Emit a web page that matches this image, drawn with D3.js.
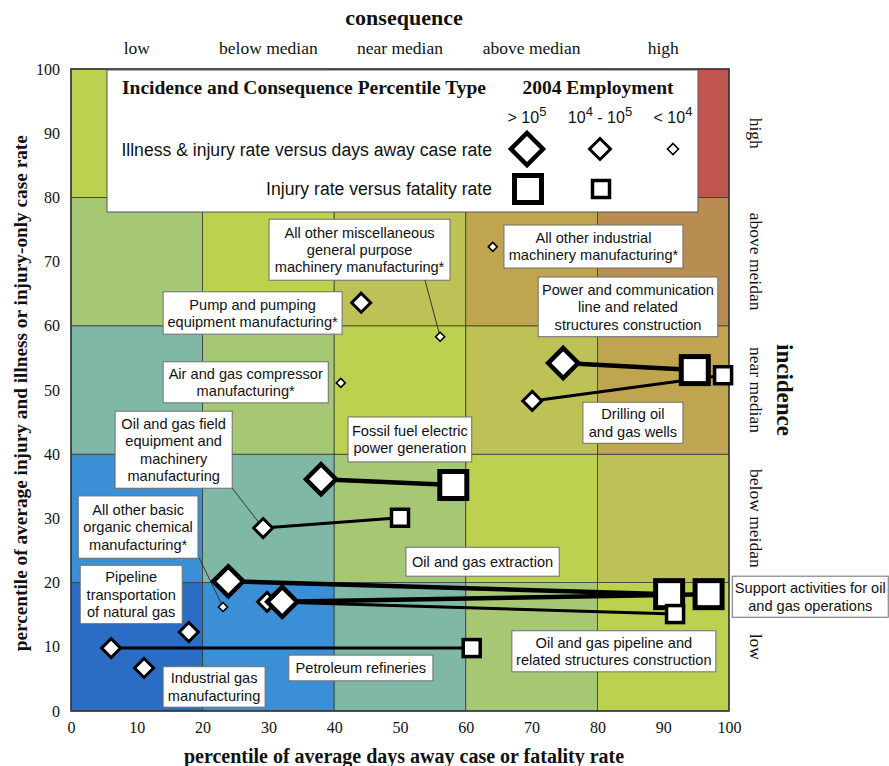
<!DOCTYPE html>
<html>
<head>
<meta charset="utf-8">
<script src="https://cdn.jsdelivr.net/npm/d3@7"></script>
<style>
  body { margin: 0; background: #fff; }
  text { fill: #111; }
  .serif { font-family: "Liberation Serif", "Times New Roman", serif; }
  .sans { font-family: "Liberation Sans", Arial, sans-serif; }
</style>
</head>
<body>
<div id="chart"></div>
<script>
// ---- data ----
const bands = [0, 20, 40, 60, 80];
const consequenceLabels = ["low", "below median", "near median", "above median", "high"];
const incidenceLabels = ["low", "below meidan", "near median", "above meidan", "high"];
const tickValues = [0, 10, 20, 30, 40, 50, 60, 70, 80, 90, 100];
// colour by (column + row) of the 5x5 grid
const cellColors = ["#2b6cc4", "#3b8fd7", "#80b8a8", "#a6c874", "#bdd150", "#bec256", "#bfa54f", "#b98d52", "#c0554f"];

const industries = ["Pump and pumping", "Misc general purpose machinery", "Other industrial machinery",
  "Air and gas compressor", "Power and communication line", "Drilling oil and gas wells",
  "Fossil fuel electric power", "Oil and gas field equipment", "Other basic organic chemical",
  "Oil and gas extraction", "Oil and gas pipeline construction", "Support activities",
  "Pipeline transportation", "Petroleum refineries", "Industrial gas"];
// illness & injury rate (y) versus days away case rate (x) -> diamonds
const caseX = [44.1, 56.1, 64.1, 41.0, 74.8, 70.1, 38.0, 29.2, 23.1, 23.9, 29.8, 32.1, 17.9, 6.1, 11.1];
const caseY = [63.6, 58.3, 72.3, 51.1, 54.2, 48.3, 36.1, 28.5, 16.2, 20.2, 17.0, 17.0, 12.3, 9.8, 6.7];
// injury rate (y) versus fatality rate (x) -> squares
const fatalX = [null, null, null, null, 94.8, 99.1, 58.1, 50.0, null, 90.9, 91.8, 96.9, null, 60.9, null];
const fatalY = [null, null, null, null, 53.1, 52.3, 35.2, 30.1, null, 18.2, 15.1, 18.2, null, 9.8, null];
// 2004 employment class
const employment = ["mid", "low", "low", "low", "high", "mid", "high", "mid", "low", "high", "mid", "high", "mid", "mid", "mid"];
const employmentLabels = [["> 10", "5"], ["10", "4", " - 10", "5"], ["< 10", "4"]];

// callout boxes, in percentile units
const callouts = [
  { lines: ["All other miscellaneous", "general purpose", "machinery manufacturing*"], x0: 30.1, x1: 57.6, y0: 76.6, y1: 67.1, leader: [53.8, 67.1], to: 1 },
  { lines: ["Pump and pumping", "equipment manufacturing*"], x0: 14.0, x1: 41.2, y0: 65.3, y1: 58.7 },
  { lines: ["Air and gas compressor", "manufacturing*"], x0: 14.0, x1: 39.1, y0: 54.4, y1: 48.0 },
  { lines: ["All other industrial", "machinery manufacturing*"], x0: 65.8, x1: 93.0, y0: 75.7, y1: 69.0 },
  { lines: ["Power and communication", "line and related", "structures construction"], x0: 71.0, x1: 98.3, y0: 67.6, y1: 58.3 },
  { lines: ["Drilling oil", "and gas wells"], x0: 77.8, x1: 93.0, y0: 48.1, y1: 41.7 },
  { lines: ["Fossil fuel electric", "power generation"], x0: 42.1, x1: 60.9, y0: 45.8, y1: 38.8 },
  { lines: ["Oil and gas field", "equipment and", "machinery", "manufacturing"], x0: 6.7, x1: 24.5, y0: 46.7, y1: 34.7, leader: [24.5, 34.7], to: 7 },
  { lines: ["All other basic", "organic chemical", "manufacturing*"], x0: 1.1, x1: 19.3, y0: 33.5, y1: 23.8, leader: [19.5, 23.8], to: 8 },
  { lines: ["Oil and gas extraction"], x0: 50.9, x1: 74.2, y0: 25.5, y1: 21.0 },
  { lines: ["Pipeline", "transportation", "of natural gas"], x0: 1.4, x1: 16.9, y0: 22.7, y1: 13.6 },
  { lines: ["Support activities for oil", "and gas operations"], x0: 100.5, x1: 124.2, y0: 21.0, y1: 14.6 },
  { lines: ["Oil and gas pipeline and", "related structures construction"], x0: 67.0, x1: 98.0, y0: 12.5, y1: 6.1 },
  { lines: ["Petroleum refineries"], x0: 33.1, x1: 55.0, y0: 8.7, y1: 4.7 },
  { lines: ["Industrial gas", "manufacturing"], x0: 14.0, x1: 29.5, y0: 6.9, y1: 0.6 }
];

// ---- setup ----
const width = 889, height = 766;
const svg = d3.select("#chart").append("svg")
  .attr("width", width).attr("height", height);

const x = d3.scaleLinear().domain([0, 100]).range([71, 729]);
const y = d3.scaleLinear().domain([0, 100]).range([711, 69]);

const sizes = {
  high: { r: 15, sw: 4.5, side: 27, ssw: 5, lw: 4.5 },
  mid: { r: 9.5, sw: 3, side: 17, ssw: 3.5, lw: 3 },
  low: { r: 4.5, sw: 1.6 }
};
const diamond = r => `M0,${-r}L${r},0L0,${r}L${-r},0Z`;

/* CELLS */
const cells = [];
bands.forEach((bx, i) => bands.forEach((by, j) => cells.push({ bx, by, k: i + j })));
svg.append("g").selectAll("rect").data(cells).enter().append("rect")
  .attr("x", d => x(d.bx)).attr("y", d => y(d.by + 20))
  .attr("width", d => x(d.bx + 20) - x(d.bx))
  .attr("height", d => y(d.by) - y(d.by + 20))
  .attr("fill", d => cellColors[d.k])
  .attr("stroke", "#3a3a3a").attr("stroke-width", 0.8);

svg.append("rect")
  .attr("x", x(0)).attr("y", y(100))
  .attr("width", x(100) - x(0)).attr("height", y(0) - y(100))
  .attr("fill", "none").attr("stroke", "#333").attr("stroke-width", 1.5);

/* AXES */
const xAxis = svg.append("g")
  .attr("transform", `translate(0,${y(0)})`)
  .call(d3.axisBottom(x).tickValues(tickValues).tickSize(0).tickPadding(11));
const yAxis = svg.append("g")
  .attr("transform", `translate(${x(0)},0)`)
  .call(d3.axisLeft(y).tickValues(tickValues).tickSize(0).tickPadding(11));
[xAxis, yAxis].forEach(a => {
  a.select(".domain").remove();
  a.selectAll("text").attr("class", "serif").style("font-size", "16px").attr("fill", "#111");
});

/* AXIS TITLES */
svg.append("text").attr("class", "serif")
  .attr("x", 404).attr("y", 763).attr("text-anchor", "middle")
  .style("font-size", "20px").style("font-weight", "bold")
  .text("percentile of average days away case or fatality rate");

svg.append("text").attr("class", "serif")
  .attr("transform", `translate(27,${y(49.5)}) rotate(-90)`)
  .attr("text-anchor", "middle")
  .style("font-size", "19.3px").style("font-weight", "bold")
  .text("percentile of average injury and illness or injury-only case rate");

svg.append("text").attr("class", "serif")
  .attr("x", 404).attr("y", 25).attr("text-anchor", "middle")
  .style("font-size", "22px").style("font-weight", "bold")
  .text("consequence");

svg.selectAll(".conseq").data(consequenceLabels).enter().append("text")
  .attr("class", "serif")
  .attr("x", (d, i) => x(bands[i] + 10)).attr("y", 54)
  .attr("text-anchor", "middle").style("font-size", "17.5px")
  .text(d => d);

svg.selectAll(".incid").data(incidenceLabels).enter().append("text")
  .attr("class", "serif")
  .attr("transform", (d, i) => `translate(750,${y(bands[i] + 10)}) rotate(90)`)
  .attr("text-anchor", "middle").style("font-size", "17.5px")
  .text(d => d);

svg.append("text").attr("class", "serif")
  .attr("transform", `translate(777,${y(50)}) rotate(90)`)
  .attr("text-anchor", "middle")
  .style("font-size", "23px").style("font-weight", "bold")
  .text("incidence");

/* CALLOUT BOXES */
const lh = 17.4;
const boxes = svg.append("g");
callouts.forEach(c => {
  const bx0 = x(c.x0), bx1 = x(c.x1), by0 = y(c.y0), by1 = y(c.y1);
  boxes.append("rect")
    .attr("x", bx0).attr("y", by0).attr("width", bx1 - bx0).attr("height", by1 - by0)
    .attr("fill", "#fff").attr("stroke", "#6e6e6e").attr("stroke-width", 1);
  const cy = (by0 + by1) / 2 - (c.lines.length - 1) * lh / 2;
  c.lines.forEach((t, k) => {
    boxes.append("text").attr("class", "sans")
      .attr("x", (bx0 + bx1) / 2).attr("y", cy + k * lh)
      .attr("dy", "0.36em").attr("text-anchor", "middle")
      .style("font-size", "14.6px")
      .text(t);
  });
  if (c.leader) {
    boxes.append("line")
      .attr("x1", x(c.leader[0])).attr("y1", y(c.leader[1]))
      .attr("x2", x(caseX[c.to])).attr("y2", y(caseY[c.to]))
      .attr("stroke", "#333").attr("stroke-width", 1);
  }
});

/* CONNECTING LINES */
const pairs = industries.map((name, i) => ({ i, name })).filter(d => fatalX[d.i] !== null);
svg.append("g").selectAll("line").data(pairs).enter().append("line")
  .attr("x1", d => x(caseX[d.i])).attr("y1", d => y(caseY[d.i]))
  .attr("x2", d => x(fatalX[d.i])).attr("y2", d => y(fatalY[d.i]))
  .attr("stroke", "#000")
  .attr("stroke-width", d => sizes[employment[d.i]].lw);

/* MARKERS */
const marks = svg.append("g");
industries.forEach((name, i) => {
  const s = sizes[employment[i]];
  if (fatalX[i] !== null) {
    marks.append("rect")
      .attr("x", x(fatalX[i]) - s.side / 2).attr("y", y(fatalY[i]) - s.side / 2)
      .attr("width", s.side).attr("height", s.side)
      .attr("fill", "#fff").attr("stroke", "#000").attr("stroke-width", s.ssw);
  }
  marks.append("path")
    .attr("d", diamond(s.r))
    .attr("transform", `translate(${x(caseX[i])},${y(caseY[i])})`)
    .attr("fill", "#fff").attr("stroke", "#000").attr("stroke-width", s.sw)
    .attr("stroke-linejoin", "miter");
});

/* LEGEND */
const lg = svg.append("g");
lg.append("rect").attr("x", 107).attr("y", 70).attr("width", 591).attr("height", 142)
  .attr("fill", "#fff").attr("stroke", "#555").attr("stroke-width", 1);
lg.append("text").attr("class", "serif").attr("x", 122).attr("y", 94)
  .style("font-size", "19.5px").style("font-weight", "bold")
  .text("Incidence and Consequence Percentile Type");
lg.append("text").attr("class", "serif").attr("x", 598).attr("y", 94)
  .attr("text-anchor", "middle")
  .style("font-size", "19.5px").style("font-weight", "bold")
  .text("2004 Employment");

const colX = [527, 600, 673];
employmentLabels.forEach((parts, i) => {
  const t = lg.append("text").attr("class", "sans")
    .attr("x", colX[i]).attr("y", 123).attr("text-anchor", "middle")
    .style("font-size", "16px");
  parts.forEach((p, k) => {
    const sup = k % 2 === 1;
    t.append("tspan")
      .attr("dy", k === 0 ? 0 : (sup ? -7 : 7))
      .style("font-size", sup ? "13px" : "16px")
      .text(p);
  });
});

lg.append("text").attr("class", "sans").attr("x", 492).attr("y", 150)
  .attr("dy", "0.36em").attr("text-anchor", "end").style("font-size", "17.6px")
  .text("Illness & injury rate versus days away case rate");
lg.append("text").attr("class", "sans").attr("x", 492).attr("y", 189)
  .attr("dy", "0.36em").attr("text-anchor", "end").style("font-size", "17.6px")
  .text("Injury rate versus fatality rate");

["high", "mid", "low"].forEach((k, i) => {
  lg.append("path").attr("d", diamond(sizes[k].r + 1))
    .attr("transform", `translate(${colX[i]},149)`)
    .attr("fill", "#fff").attr("stroke", "#000").attr("stroke-width", sizes[k].sw);
});
["high", "mid"].forEach((k, i) => {
  const s = sizes[k];
  lg.append("rect")
    .attr("x", colX[i] + 1 - s.side / 2).attr("y", 189 - s.side / 2)
    .attr("width", s.side).attr("height", s.side)
    .attr("fill", "#fff").attr("stroke", "#000").attr("stroke-width", s.ssw);
});
</script>
</body>
</html>
